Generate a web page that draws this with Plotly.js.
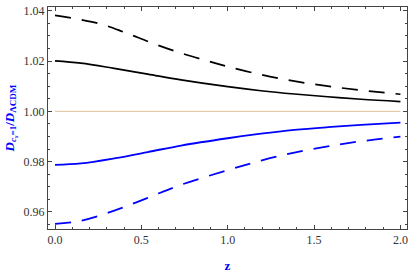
<!DOCTYPE html>
<html><head><meta charset="utf-8">
<script src="https://cdn.plot.ly/plotly-3.0.1.min.js"></script>
<style>html,body{margin:0;padding:0;background:#fff;}#chart{width:409px;height:273px;}</style>
</head><body><div id="chart"></div>
<script>
const zBlackDashed = [0, 0.25, 0.40, 0.556, 0.71, 0.865, 1.0, 1.193, 1.386, 1.579, 1.772, 2.0];
const blackDashed  = [1.0382, 1.0350, 1.0315, 1.0273, 1.0236, 1.0204, 1.0178, 1.0146, 1.0120, 1.0100, 1.0084, 1.0068];
const zSolid = [0, 0.15, 0.343, 0.537, 0.73, 1.0, 1.193, 1.386, 1.579, 1.772, 2.0];
const blackSolid = [1.0201, 1.0192, 1.0171, 1.0148, 1.0125, 1.0098, 1.0082, 1.0069, 1.0058, 1.0048, 1.0039];
const blueSolid  = [0.9787, 0.9793, 0.9813, 0.9838, 0.9864, 0.9893, 0.9911, 0.9926, 0.9937, 0.9946, 0.9955];
const blueDashed = [0.9552, 0.9565, 0.9605, 0.9656, 0.9708, 0.9766, 0.9804, 0.9836, 0.9861, 0.9881, 0.9899];
const refZ = [0, 2];
const refVal = [1, 1];
const xTicks = [0, 0.5, 1.0, 1.5, 2.0];
const xTickText = ["0.0", "0.5", "1.0", "1.5", "2.0"];
const yTicks = [0.96, 0.98, 1.00, 1.02, 1.04];
const yTickText = ["0.96", "0.98", "1.00", "1.02", "1.04"];

const traces = [
  {x: refZ, y: refVal, mode: 'lines', line: {color: 'rgb(222,190,150)', width: 1}},
  {x: zBlackDashed, y: blackDashed, mode: 'lines', line: {color: '#000', width: 1.7, dash: '16px,11px', shape: 'spline', smoothing: 1}},
  {x: zSolid, y: blackSolid, mode: 'lines', line: {color: '#000', width: 1.7, shape: 'spline', smoothing: 1}},
  {x: zSolid, y: blueSolid, mode: 'lines', line: {color: '#0000ff', width: 1.8, shape: 'spline', smoothing: 1}},
  {x: zSolid, y: blueDashed, mode: 'lines', line: {color: '#0000ff', width: 1.8, dash: '16px,11px', shape: 'spline', smoothing: 1}}
];

const axisCommon = {
  showgrid: false, zeroline: false, showline: true, linecolor: '#444', linewidth: 1,
  mirror: 'allticks', ticks: 'inside', ticklen: 4, tickcolor: '#444', tickwidth: 1,
  tickfont: {family: 'Liberation Serif, Times New Roman, serif', size: 12, color: '#333'}
};

const layout = {
  width: 409, height: 273,
  margin: {l: 48, r: 2, t: 7, b: 44},
  paper_bgcolor: '#fff', plot_bgcolor: '#fff',
  showlegend: false,
  xaxis: Object.assign({}, axisCommon, {
    range: [-0.0405, 2.038], tickmode: 'array', tickvals: xTicks, ticktext: xTickText,
    minor: {dtick: 0.1, ticks: 'inside', ticklen: 2, tickcolor: '#444', tickwidth: 1},
    title: {text: '<b>z</b>', font: {family: 'Liberation Serif, serif', size: 13, color: '#0000ff'}, standoff: 14}
  }),
  yaxis: Object.assign({}, axisCommon, {
    range: [0.9532, 1.0415], tickmode: 'array', tickvals: yTicks, ticktext: yTickText,
    minor: {dtick: 0.005, ticks: 'inside', ticklen: 2, tickcolor: '#444', tickwidth: 1},
    title: {text: '<b><i>D</i><sub><i>c<sub>s</sub></i>=1</sub>/<i>D</i><sub>ΛCDM</sub></b>', font: {family: 'Liberation Serif, serif', size: 13, color: '#0000ff'}, standoff: 6}
  })
};

Plotly.newPlot('chart', traces, layout, {staticPlot: true, displayModeBar: false});
</script>
</body></html>
